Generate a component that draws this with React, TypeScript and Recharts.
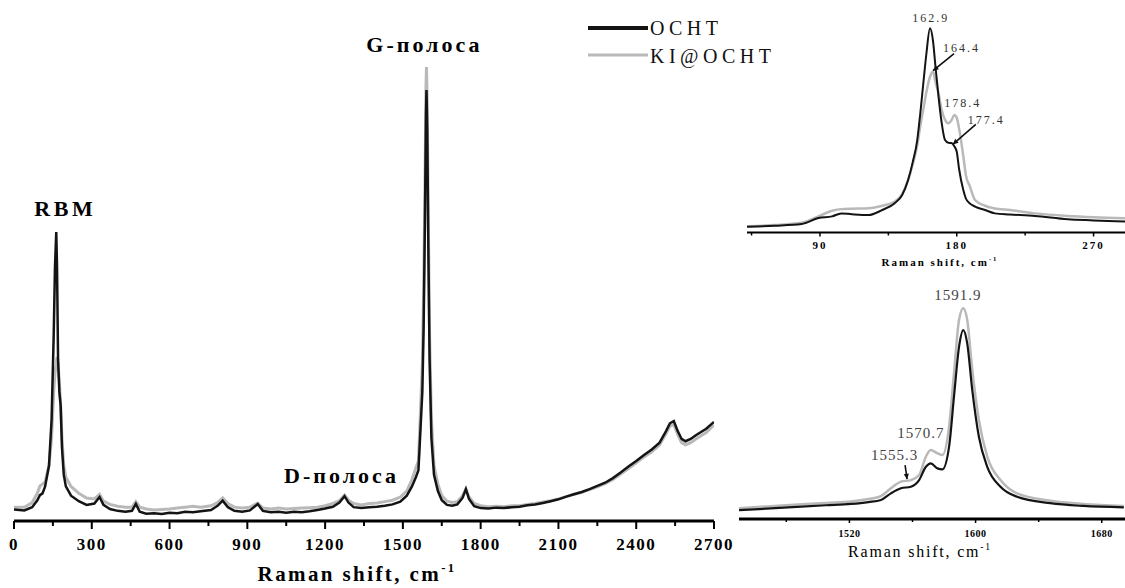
import React from 'react'
import { LineChart, Line, XAxis, YAxis, ReferenceDot, Legend } from 'recharts'

const SERIF = "'Liberation Serif', 'DejaVu Serif', 'Times New Roman', serif"
const BLACK = '#141414'
const GREY = '#b9b9b9'

// full spectrum, cm-1
const mainShift = [
    0, 40, 70, 90, 100, 110, 120, 135, 145, 153, 158, 163, 166, 170, 175, 180, 185, 192, 200, 220,
    250, 280, 310, 330, 345, 370, 400, 430, 455, 470, 485, 510, 540, 570, 600, 630, 660, 690, 720, 760,
    785, 805, 825, 850, 880, 910, 940, 960, 990, 1020, 1050, 1080, 1110, 1140, 1170, 1200, 1230, 1255, 1275, 1290,
    1310, 1340, 1370, 1400, 1430, 1460, 1490, 1515, 1535, 1550, 1560, 1568, 1575, 1580, 1585, 1589, 1591, 1594, 1598, 1603,
    1610, 1620, 1635, 1650, 1670, 1690, 1710, 1730, 1743, 1755, 1775, 1800, 1830, 1860, 1890, 1920, 1950, 1980, 2010, 2040,
    2070, 2100, 2130, 2160, 2190, 2220, 2250, 2280, 2310, 2340, 2370, 2400, 2430, 2460, 2490, 2515, 2530, 2545, 2560, 2575,
    2590, 2610, 2630, 2650, 2670, 2690, 2700,
]
const mainOcht = [
    2.5, 2.3, 3.0, 4.5, 5.6, 6.0, 7.5, 12, 22, 40, 55, 62.7, 55, 35, 28, 25, 16, 10, 7.5, 5.5,
    4.3, 3.5, 3.8, 5.2, 3.5, 2.6, 2.2, 2.0, 2.2, 3.7, 2.0, 1.6, 1.7, 1.5, 1.8, 1.7, 2.0, 1.9, 2.1, 2.4,
    3.3, 4.4, 3.0, 2.2, 2.0, 2.3, 3.7, 2.2, 1.9, 2.0, 1.8, 2.0, 1.9, 2.1, 2.4, 2.7, 3.1, 4.0, 5.4, 4.0,
    3.0, 2.8, 3.0, 3.1, 3.3, 3.6, 4.2, 5.5, 7.5, 9.5, 11, 20, 28, 42, 65, 88, 93.5, 85, 60, 35,
    18, 10, 6.5, 4.5, 3.5, 3.3, 3.6, 5.0, 6.9, 4.8, 3.2, 2.8, 2.7, 2.9, 2.8, 3.0, 3.1, 3.4, 3.6, 3.9,
    4.3, 4.7, 5.3, 5.8, 6.3, 6.9, 7.6, 8.3, 9.3, 10.5, 11.8, 13.0, 14.3, 15.5, 17.0, 19.5, 21.2, 21.7, 19.5, 17.8,
    17.3, 17.8, 18.6, 19.3, 20.0, 21.0, 21.5,
]
const mainKi = [
    3.0, 3.0, 4.0, 6.0, 7.6, 8.0, 8.5, 12, 18, 28, 32, 34, 35.6, 34, 30, 25, 18, 12, 9.5, 7.5,
    6.0, 5.0, 4.8, 5.8, 4.3, 3.6, 3.2, 3.0, 3.0, 4.2, 3.0, 2.6, 2.4, 2.5, 2.6, 2.8, 3.0, 3.2, 3.0, 3.3,
    4.0, 5.0, 3.8, 3.0, 2.8, 3.0, 3.9, 2.8, 2.6, 2.8, 2.6, 2.7, 2.8, 2.9, 3.0, 3.3, 3.8, 4.4, 5.6, 4.5,
    3.8, 3.5, 3.8, 3.9, 4.2, 4.5, 5.2, 6.5, 9.0, 11.5, 13, 24, 34, 50, 72, 94, 98.5, 90, 66, 40,
    22, 12, 8, 5.5, 4.3, 4.0, 4.2, 5.5, 7.0, 5.2, 3.8, 3.3, 3.1, 3.2, 3.1, 3.3, 3.3, 3.6, 3.8, 4.1,
    4.4, 4.8, 5.3, 5.8, 6.2, 6.8, 7.4, 8.1, 9.0, 10.2, 11.4, 12.6, 13.9, 15.0, 16.5, 19.0, 20.6, 21.0, 18.8, 17.0,
    16.5, 17.0, 17.8, 18.5, 19.2, 20.3, 20.8,
]
const mainTicks = [0, 150, 300, 450, 600, 750, 900, 1050, 1200, 1350, 1500, 1650, 1800, 1950, 2100, 2250, 2400, 2550, 2700]

// RBM region
const rbmShift = [
    42, 60, 78, 89, 98, 104, 111, 122, 131, 139, 144, 148, 151, 154, 156, 158, 160, 162.4, 164.4, 166,
    168, 170, 172.3, 174.5, 176.5, 178.4, 180, 181.5, 184.3, 186, 188.7, 192, 198.6, 205, 215, 231.5, 253, 270, 292,
]
const rbmOcht = [
    2.7, 3.2, 4.0, 6.8, 7.6, 9.0, 8.6, 8.2, 10.6, 13.7, 17.5, 24.7, 33, 43.5, 56, 70.2, 84, 96.1, 90, 78,
    64, 52, 43.5, 42.2, 42.1, 40.6, 38, 30, 20, 16, 13.6, 12.2, 10.6, 9.0, 8.5, 7.8, 6.2, 5.7, 5.1,
]
const rbmKi = [
    2.9, 3.5, 4.6, 7.6, 10.2, 11.0, 11.2, 11.4, 12.6, 14.5, 18, 24.7, 32, 41, 50, 58, 66, 73.3, 75.7, 71,
    65.5, 58, 53, 51.4, 52.8, 55.3, 54, 49, 36, 27, 21.6, 15.3, 12.6, 11.3, 10.6, 9.0, 7.8, 7.2, 6.7,
]
const rbmTicks = [45, 90, 135, 180, 225, 270]

// G band region
const gShift = [
    1450, 1470, 1489.5, 1505, 1521, 1532, 1540, 1546.3, 1552.7, 1559, 1564.2, 1568.5, 1571.6, 1575.8, 1579, 1583.2, 1586.3, 1589.5, 1592.2, 1594.7,
    1597.9, 1602.1, 1607.4, 1615.8, 1626.3, 1647.4, 1668.4, 1694,
]
const gOcht = [
    3.9, 4.6, 5.4, 6.0, 6.6, 7.4, 8.3, 11.2, 13.4, 14.1, 17.0, 22.8, 24.3, 22.1, 21.7, 31.6, 53.4, 75.2, 82.5, 76.7,
    56.3, 35.9, 22.8, 14.1, 9.7, 6.9, 5.7, 5.1,
]
const gKi = [
    4.7, 5.6, 6.4, 7.0, 7.6, 8.7, 10.0, 13.4, 16.3, 17.0, 19.2, 27.2, 30.1, 28.7, 27.9, 40.3, 63.6, 86.9, 92.0, 86.9,
    65.1, 43.2, 27.2, 17.0, 11.2, 8.0, 6.6, 5.7,
]
const gTicks = [1480, 1520, 1560, 1600, 1640, 1680]

const legendOrder = ['OCHT', 'KI@OCHT']

const mainData = mainShift.map((x, i) => ({ x, ocht: mainOcht[i], ki: mainKi[i] }))
const rbmData = rbmShift.map((x, i) => ({ x, ocht: rbmOcht[i], ki: rbmKi[i] }))
const gData = gShift.map((x, i) => ({ x, ocht: gOcht[i], ki: gKi[i] }))

const makeTick = (o: any) => (props: any) => {
    const { x, y, payload } = props
    const major = payload.value % o.major === 0
    return (
        <g>
            <line x1={x} x2={x} y1={y} y2={y + (major ? o.len : o.minorLen)} stroke="#000" strokeWidth={o.width} />
            {major && (
                <text x={x} y={y + o.dy} textAnchor="middle" fontFamily={SERIF} fontWeight="bold"
                    fontSize={o.size} letterSpacing={o.spacing} fill="#000">
                    {payload.value}
                </text>
            )}
        </g>
    )
}

const axisTitle = (o: any) => (props: any) => {
    const vb = props.viewBox
    return (
        <text x={vb.x + vb.width / 2 + o.dx} y={vb.y + o.dy} textAnchor="middle" fontFamily={SERIF}
            fontWeight={o.weight} fontSize={o.size} letterSpacing={o.spacing} fill="#000">
            Raman shift, cm
            <tspan fontSize={o.size * 0.6} dy={-o.size * 0.45}>-1</tspan>
        </text>
    )
}

const arrow = (x1: number, y1: number, x2: number, y2: number, color: string, head = 6) => {
    const a = Math.atan2(y2 - y1, x2 - x1)
    const p1 = [x2 - head * Math.cos(a - 0.45), y2 - head * Math.sin(a - 0.45)]
    const p2 = [x2 - head * Math.cos(a + 0.45), y2 - head * Math.sin(a + 0.45)]
    return (
        <g>
            <line x1={x1} y1={y1} x2={x2} y2={y2} stroke={color} strokeWidth={1.6} />
            <polygon points={`${x2},${y2} ${p1[0]},${p1[1]} ${p2[0]},${p2[1]}`} fill={color} />
        </g>
    )
}

const callout = (text: string, o: any) => (props: any) => {
    const { x, y } = props.viewBox
    return (
        <g>
            {o.arrow && arrow(x + o.arrow[0], y + o.arrow[1], x + o.arrow[2], y + o.arrow[3], '#111')}
            <text x={x + o.tx} y={y + o.ty} textAnchor={o.anchor || 'start'} fontFamily={SERIF}
                fontWeight={o.weight || 'normal'} fontSize={o.size} letterSpacing={o.spacing}
                fill={o.color || '#000'}>
                {text}
            </text>
        </g>
    )
}

const renderLegend = (props: any) => {
    const items = [...(props.payload || [])].sort(
        (a: any, b: any) => legendOrder.indexOf(a.value) - legendOrder.indexOf(b.value)
    )
    return (
        <svg width={200} height={64}>
            {items.map((it: any, i: number) => (
                <g key={it.value}>
                    <line x1={2} x2={62} y1={18 + i * 27} y2={18 + i * 27} stroke={it.color}
                        strokeWidth={i === 0 ? 4 : 3} />
                    <text x={64} y={25 + i * 28} fontFamily={SERIF} fontSize={20} letterSpacing={4.5} fill="#111">
                        {it.value}
                    </text>
                </g>
            ))}
        </svg>
    )
}

function MainChart() {
    return (
        <LineChart width={740} height={588} data={mainData} margin={{ top: 60, right: 26, bottom: 0, left: 14 }}>
            <XAxis dataKey="x" type="number" domain={[0, 2700]} ticks={mainTicks} interval={0}
                allowDataOverflow height={67} tickSize={0} tickMargin={0}
                axisLine={{ stroke: '#000', strokeWidth: 3 }}
                tick={makeTick({ major: 300, len: 8, minorLen: 5, width: 2, size: 17, spacing: 1.5, dy: 29 })}
                label={axisTitle({ dx: -7, dy: 60, size: 21, weight: 'bold', spacing: 2.4 })} />
            <YAxis hide domain={[0, 100]} allowDataOverflow />
            <Legend layout="vertical" align="center" verticalAlign="middle" content={renderLegend}
                wrapperStyle={{ position: 'absolute', left: 586, top: 10, width: 200, height: 64 }} />
            <Line type="linear" dataKey="ki" name="KI@OCHT" stroke={GREY} strokeWidth={3} dot={false}
                isAnimationActive={false} />
            <Line type="linear" dataKey="ocht" name="OCHT" stroke={BLACK} strokeWidth={2.5} dot={false}
                isAnimationActive={false} />
            <ReferenceDot x={163} y={62.7} r={0}
                label={callout('RBM', { tx: 9, ty: -16, anchor: 'middle', size: 22, spacing: 3.5, weight: 'bold' })} />
            <ReferenceDot x={1591} y={98.5} r={0}
                label={callout('G-полоса', { tx: 56, ty: -15, anchor: 'end', size: 22, spacing: 3, weight: 'bold' })} />
            <ReferenceDot x={1275} y={5.4} r={0}
                label={callout('D-полоса', { tx: -3, ty: -13, anchor: 'middle', size: 22, spacing: 3, weight: 'bold' })} />
        </LineChart>
    )
}

function RbmInset() {
    return (
        <LineChart width={400} height={280} data={rbmData} margin={{ top: 20, right: 8, bottom: 0, left: 12 }}>
            <XAxis dataKey="x" type="number" domain={[42, 292]} ticks={rbmTicks} interval={0}
                allowDataOverflow height={47.5} tickSize={0} tickMargin={0}
                axisLine={{ stroke: '#000', strokeWidth: 2 }}
                tick={makeTick({ major: 90, len: 4, minorLen: 3, width: 1.5, size: 11, spacing: 2, dy: 16.5 })}
                label={axisTitle({ dx: 3, dy: 33.5, size: 11, weight: 'bold', spacing: 2 })} />
            <YAxis hide domain={[0, 100]} allowDataOverflow />
            <Line type="monotone" dataKey="ki" stroke={GREY} strokeWidth={2.5} dot={false} isAnimationActive={false} />
            <Line type="monotone" dataKey="ocht" stroke={BLACK} strokeWidth={2} dot={false} isAnimationActive={false} />
            <ReferenceDot x={162.9} y={96.1} r={0}
                label={callout('162.9', { tx: 0, ty: -6, anchor: 'middle', size: 12, spacing: 2, color: '#333' })} />
            <ReferenceDot x={164.4} y={75.7} r={0}
                label={callout('164.4', { tx: 10, ty: -20, size: 12, spacing: 2, color: '#333', arrow: [21, -18, 0, -1] })} />
            <ReferenceDot x={178.4} y={55.3} r={0}
                label={callout('178.4', { tx: -10, ty: -8, size: 12, spacing: 2, color: '#333' })} />
            <ReferenceDot x={177.4} y={41} r={0}
                label={callout('177.4', { tx: 15, ty: -21, size: 12, spacing: 2, color: '#333', arrow: [23, -21, 0, -1] })} />
        </LineChart>
    )
}

function GInset() {
    return (
        <LineChart width={400} height={308} data={gData} margin={{ top: 10, right: 8, bottom: 0, left: 4 }}>
            <XAxis dataKey="x" type="number" domain={[1450, 1696]} ticks={gTicks} interval={0}
                allowDataOverflow height={69} tickSize={0} tickMargin={0}
                axisLine={{ stroke: '#000', strokeWidth: 3 }}
                tick={makeTick({ major: 80, len: 4, minorLen: 3, width: 1.5, size: 10, spacing: 0.5, dy: 18 })}
                label={axisTitle({ dx: -13, dy: 38, size: 16, weight: 'normal', spacing: 1.8 })} />
            <YAxis hide domain={[0, 100]} allowDataOverflow />
            <Line type="monotone" dataKey="ki" stroke={GREY} strokeWidth={2.5} dot={false} isAnimationActive={false} />
            <Line type="monotone" dataKey="ocht" stroke={BLACK} strokeWidth={2.2} dot={false} isAnimationActive={false} />
            <ReferenceDot x={1591.9} y={92} r={0}
                label={callout('1591.9', { tx: -5, ty: -8, anchor: 'middle', size: 15, spacing: 1, color: '#444' })} />
            <ReferenceDot x={1570.7} y={30} r={0}
                label={callout('1570.7', { tx: -32, ty: -12, size: 15, spacing: 1, color: '#444' })} />
            <ReferenceDot x={1555.3} y={16.5} r={0}
                label={callout('1555.3', { tx: -34, ty: -21, size: 15, spacing: 1, color: '#444', arrow: [0, -16, 2, -2] })} />
        </LineChart>
    )
}

export default function App() {
    return (
        <div style={{ position: 'absolute', left: 0, top: 0, width: 1125, height: 588, overflow: 'hidden', background: '#fff' }}>
            <div style={{ position: 'absolute', left: 0, top: 0 }}>
                <MainChart />
            </div>
            <div style={{ position: 'absolute', left: 735, top: 0 }}>
                <RbmInset />
            </div>
            <div style={{ position: 'absolute', left: 735, top: 280 }}>
                <GInset />
            </div>
        </div>
    )
}
